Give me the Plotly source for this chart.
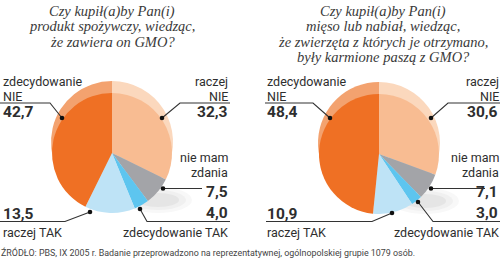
import plotly.graph_objects as go

W, H = 500, 261

# ---- data ----
categories = ["raczej NIE", "nie mam zdania", "zdecydowanie TAK", "raczej TAK", "zdecydowanie NIE"]
values_food = [32.3, 7.5, 4.0, 13.5, 42.7]
values_meat = [30.6, 7.1, 3.0, 10.9, 48.4]
value_labels_food = ["32,3", "7,5", "4,0", "13,5", "42,7"]
value_labels_meat = ["30,6", "7,1", "3,0", "10,9", "48,4"]
title_food = ["Czy kupił(a)by Pan(i)", "produkt spożywczy, wiedząc,", "że zawiera on GMO?"]
title_meat = ["Czy kupił(a)by Pan(i)", "mięso lub nabiał, wiedząc,",
              "że zwierzęta z których je otrzymano,", "były karmione paszą z GMO?"]
source_text = "ŹRÓDŁO: PBS, IX 2005 r. Badanie przeprowadzono na reprezentatywnej, ogólnopolskiej grupie 1079 osób."

# ---- styles ----
front_colors = ["#F8BC92", "#A3A4A8", "#5DC5EF", "#BEE3F6", "#EF7024"]
rim_colors = ["#FBD8BD", "#C4C5C8", "#A5DDF4", "#D8EEF9", "#F3A26F"]
TXT = "#2e2e2e"
SANS = "Roboto"
SERIF = "Liberation Serif"


def px(x):
    return x / W


def py(y):
    return 1 - y / H


def dom(cx, cy, r):
    return dict(x=[px(cx - r), px(cx + r)], y=[py(cy + r), py(cy - r)])


fig = go.Figure()

panels = [
    dict(vals=values_food, cx=112, cy=153, r=60, title=title_food, tcx=112),
    dict(vals=values_meat, cx=379, cy=154, r=60, title=title_meat, tcx=383),
]

shapes = []
annotations = []

for p in panels:
    cx, cy, r = p["cx"], p["cy"], p["r"]
    # soft shadow at lower right
    for rx, ry, op in [(34, 13, 0.035), (28, 10, 0.045), (21, 7, 0.055)]:
        sx, sy = cx + 46, cy + 47
        shapes.append(dict(type="circle", xref="paper", yref="paper", layer="below",
                           x0=px(sx - rx), x1=px(sx + rx), y0=py(sy + ry), y1=py(sy - ry),
                           fillcolor=f"rgba(60,60,60,{op})", line=dict(width=0)))
    # back (rim) pie
    fig.add_trace(go.Pie(labels=categories, values=p["vals"], sort=False, direction="clockwise",
                         rotation=0, marker=dict(colors=rim_colors, line=dict(width=0)),
                         textinfo="none", hoverinfo="skip", showlegend=False,
                         domain=dom(cx, cy - 11, r + 1)))
    # front pie
    fig.add_trace(go.Pie(labels=categories, values=p["vals"], sort=False, direction="clockwise",
                         rotation=0, marker=dict(colors=front_colors, line=dict(width=0)),
                         textinfo="none", showlegend=False,
                         domain=dom(cx, cy, r)))
    # titles
    for i, line in enumerate(p["title"]):
        annotations.append(dict(text=line, x=px(p["tcx"]), y=py(11 + 15.5 * i), xref="paper", yref="paper",
                                xanchor="center", yanchor="middle", showarrow=False, borderpad=0,
                                font=dict(family=SERIF, size=14.5, color="#3a3a3a", style="italic")))


def label(x, y, text, anchor, bold=False, size=12.5):
    annotations.append(dict(text=f"<b>{text}</b>" if bold else text, x=px(x), y=py(y),
                            xref="paper", yref="paper", xanchor=anchor, yanchor="middle",
                            showarrow=False, borderpad=0,
                            font=dict(family=SANS, size=15.5 if bold else size, color=TXT)))


def poly(points):
    path = "M " + " L ".join(f"{px(x)},{py(y)}" for x, y in points)
    shapes.append(dict(type="path", xref="paper", yref="paper", path=path,
                       line=dict(color="#333333", width=1.1)))


def dot(x, y):
    rr = 2.3
    shapes.append(dict(type="circle", xref="paper", yref="paper",
                       x0=px(x - rr), x1=px(x + rr), y0=py(y + rr), y1=py(y - rr),
                       fillcolor="#111111", line=dict(width=0)))


# ---- left panel labels ----
L = value_labels_food
label(2, 81.5, "zdecydowanie", "left"); label(2, 96, "NIE", "left"); label(2, 112, L[4], "left", True)
poly([(0, 103), (50, 103), (62, 118)]); dot(62, 118)
label(229, 81.5, "raczej", "right"); label(229, 96, "NIE", "right"); label(229, 112, L[0], "right", True)
poly([(230, 103), (180, 103), (162, 118)]); dot(162, 118)
label(229, 157, "nie mam", "right"); label(229, 172, "zdania", "right"); label(229, 192, L[1], "right", True)
poly([(163, 188.5), (202, 188.5)]); dot(163, 188.5)
label(229, 213, L[2], "right", True); label(229, 232, "zdecydowanie TAK", "right")
poly([(140, 209), (147, 221.5), (230, 221.5)]); dot(140, 209)
label(2, 213.5, L[3], "left", True); label(2, 232, "raczej TAK", "left")
poly([(0, 221.5), (65, 221.5), (90, 212)]); dot(90, 212)

# ---- right panel labels ----
R = value_labels_meat
label(266, 81.5, "zdecydowanie", "left"); label(266, 96, "NIE", "left"); label(266, 112, R[4], "left", True)
poly([(265, 103), (313, 103), (330, 118)]); dot(330, 118)
label(500, 81.5, "raczej", "right"); label(500, 96, "NIE", "right"); label(499, 112, R[0], "right", True)
poly([(500, 103), (448, 103), (431, 118)]); dot(431, 118)
label(500, 157, "nie mam", "right"); label(500, 172, "zdania", "right"); label(499, 192, R[1], "right", True)
poly([(431, 188.5), (485, 188.5)]); dot(431, 188.5)
label(499, 213, R[2], "right", True); label(500, 232, "zdecydowanie TAK", "right")
poly([(418, 202), (433, 221.5), (500, 221.5)]); dot(418, 202)
label(266, 213.5, R[3], "left", True); label(266, 232, "raczej TAK", "left")
poly([(266, 221.5), (372, 221.5), (392, 213)]); dot(392, 213)

# ---- source ----
annotations.append(dict(text=source_text, x=0, y=py(252), xref="paper", yref="paper",
                        xanchor="left", yanchor="middle", showarrow=False, borderpad=0,
                        font=dict(family=SANS, size=8.9, color="#444444")))

fig.update_layout(width=W, height=H, margin=dict(l=0, r=0, t=0, b=0),
                  paper_bgcolor="white", plot_bgcolor="white",
                  shapes=shapes, annotations=annotations, showlegend=False)

fig.write_html("out.html")
